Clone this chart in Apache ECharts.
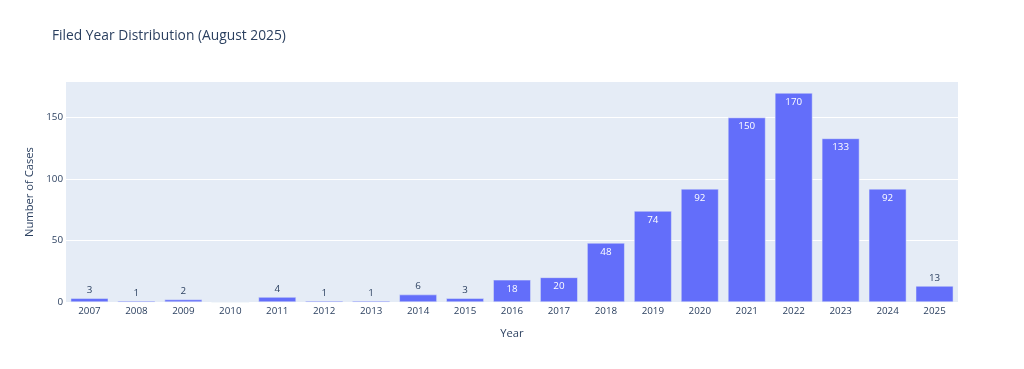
<!DOCTYPE html>
<html>
<head>
<meta charset="utf-8">
<script src="https://cdn.jsdelivr.net/npm/echarts@6/dist/echarts.min.js"></script>
<style>html,body{margin:0;padding:0;background:#fff}#c{width:1024px;height:369px}</style>
</head>
<body>
<div id="c"></div>
<script>
const years = ['2007','2008','2009','2010','2011','2012','2013','2014','2015','2016','2017','2018','2019','2020','2021','2022','2023','2024','2025'];
const cases = [3,1,2,0,4,1,1,6,3,18,20,48,74,92,150,170,133,92,13];
const yTicks = [0,50,100,150];

const yMax = Math.max(...cases) * 1.0525;
const plotH = 220;
const font = '"Open Sans", verdana, arial, sans-serif';
const textColor = '#2a3f5f';

const data = cases.map(v => {
  const px = v / yMax * plotH;
  const inside = px >= 18;
  return {
    value: v,
    label: {
      show: v > 0,
      position: inside ? 'insideTop' : 'top',
      distance: inside ? 4 : 3,
      color: inside ? '#ffffff' : textColor,
      fontSize: 9.8,
      fontFamily: font
    }
  };
});

const chart = echarts.init(document.getElementById('c'));
chart.setOption({
  animation: false,
  backgroundColor: '#ffffff',
  title: {
    text: 'Filed Year Distribution (August 2025)',
    left: 47, top: 24,
    textStyle: {fontFamily: font, fontSize: 13.8, fontWeight: 'normal', color: textColor}
  },
  grid: {left: 66, right: 66, top: 82, bottom: 67, show: true, backgroundColor: '#E5ECF6', borderWidth: 0},
  xAxis: {
    type: 'category',
    data: years,
    name: 'Year',
    nameLocation: 'middle',
    nameGap: 26,
    nameTextStyle: {fontFamily: font, fontSize: 11.2, color: textColor},
    axisLine: {show: false},
    axisTick: {show: false},
    axisLabel: {fontFamily: font, fontSize: 9.8, color: textColor, margin: 4}
  },
  yAxis: {
    type: 'value',
    min: 0,
    max: yMax,
    interval: 50,
    name: 'Number of Cases',
    nameLocation: 'middle',
    nameGap: 30,
    nameTextStyle: {fontFamily: font, fontSize: 11.2, color: textColor},
    axisLine: {show: false},
    axisTick: {show: false},
    axisLabel: {
      fontFamily: font, fontSize: 9.8, color: textColor, margin: 3,
      formatter: v => yTicks.includes(v) ? String(v) : ''
    },
    splitLine: {lineStyle: {color: ['#ffffff','#ffffff','#ffffff','#ffffff','#E5ECF6'], width: 1}}
  },
  series: [{
    type: 'bar',
    data: data,
    barCategoryGap: '20%',
    itemStyle: {color: '#636efa', borderColor: '#E5ECF6', borderWidth: 0.5}
  }]
});
</script>
</body>
</html>
